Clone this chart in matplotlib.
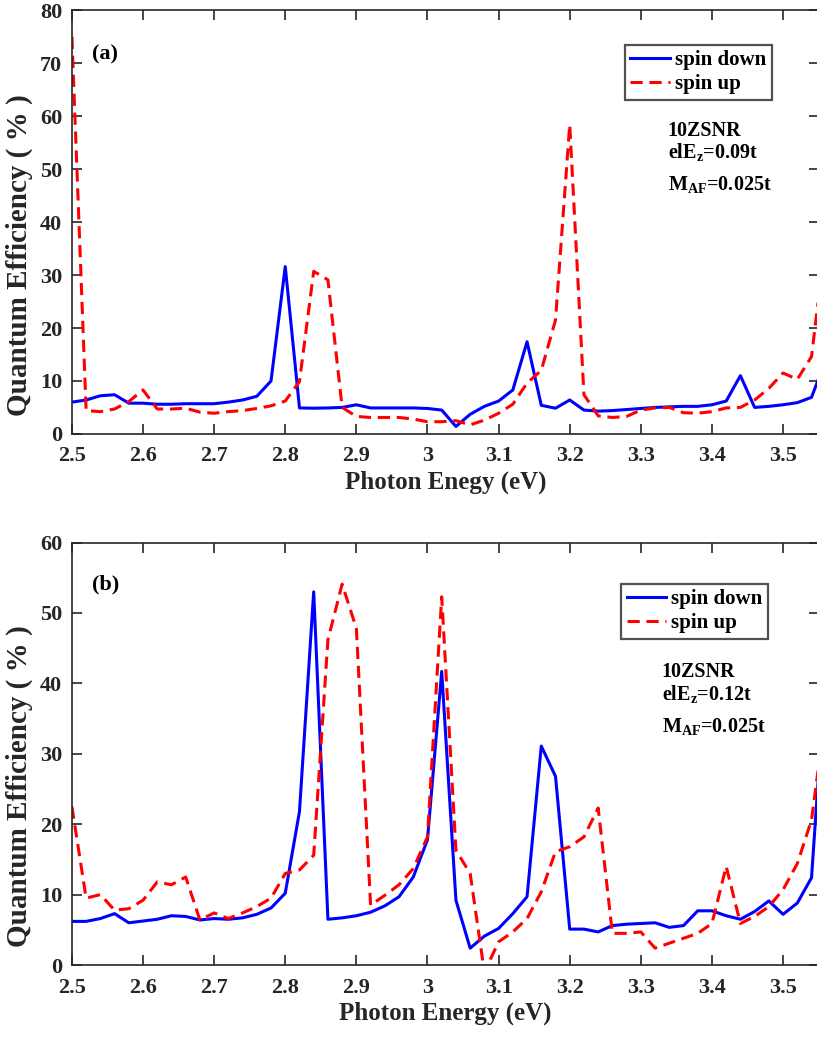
import numpy as np
import matplotlib
matplotlib.use("Agg")
import matplotlib.pyplot as plt

plt.rcParams["font.family"] = ["Liberation Serif", "DejaVu Serif"]
plt.rcParams["font.weight"] = "bold"
plt.rcParams["mathtext.fontset"] = "custom"
plt.rcParams["mathtext.rm"] = "Liberation Serif:bold"
plt.rcParams["mathtext.bf"] = "Liberation Serif:bold"
plt.rcParams["mathtext.it"] = "Liberation Serif:bold"

# energia del foton, paso de 0.02 eV
energia = np.round(np.arange(2.50, 3.561, 0.02), 2)

# panel (a): elEz = 0.09t
abajo_a = [6.0, 6.4, 7.2, 7.4, 5.8, 5.8, 5.6, 5.6, 5.7, 5.7,
           5.7, 6.0, 6.4, 7.1, 10.0, 31.6, 4.9, 4.85, 4.9, 5.0,
           5.5, 4.9, 4.9, 4.9, 4.9, 4.8, 4.5, 1.4, 3.7, 5.2,
           6.2, 8.3, 17.4, 5.4, 4.85, 6.4, 4.5, 4.3, 4.4, 4.6,
           4.8, 5.0, 5.1, 5.2, 5.2, 5.5, 6.2, 11.0, 5.0, 5.2,
           5.5, 5.9, 6.9, 14.0]
arriba_a = [75.0, 4.4, 4.2, 4.7, 6.1, 8.3, 4.7, 4.7, 4.85, 4.1,
            3.9, 4.2, 4.4, 4.8, 5.3, 6.2, 9.9, 30.7, 29.1, 5.0,
            3.3, 3.1, 3.1, 3.1, 2.8, 2.3, 2.3, 2.5, 1.7, 2.6,
            3.9, 5.6, 9.6, 12.0, 21.5, 58.4, 7.4, 3.4, 3.1, 3.3,
            4.5, 4.9, 5.0, 4.0, 3.9, 4.2, 4.9, 5.0, 6.4, 8.6,
            11.5, 10.3, 14.6, 37.0]

# panel (b): elEz = 0.12t
abajo_b = [6.2, 6.2, 6.6, 7.3, 6.0, 6.25, 6.5, 7.0, 6.9, 6.4,
           6.6, 6.5, 6.7, 7.2, 8.1, 10.2, 21.8, 53.0, 6.5, 6.7,
           7.0, 7.5, 8.4, 9.7, 12.5, 17.8, 41.7, 9.2, 2.4, 4.1,
           5.2, 7.3, 9.7, 31.1, 26.8, 5.1, 5.1, 4.7, 5.6, 5.8,
           5.9, 6.0, 5.35, 5.6, 7.7, 7.7, 7.0, 6.5, 7.6, 9.1,
           7.2, 8.8, 12.4, 42.0]
arriba_b = [22.5, 9.5, 10.0, 7.8, 8.0, 9.2, 11.8, 11.4, 12.5, 6.4,
            7.4, 6.6, 7.4, 8.3, 9.5, 13.0, 13.5, 15.6, 46.2, 54.1,
            47.8, 8.5, 9.9, 11.4, 13.7, 18.2, 52.3, 16.3, 13.0, -1.0,
            3.3, 4.7, 6.6, 10.4, 16.1, 16.8, 18.2, 22.3, 4.5, 4.5,
            4.7, 2.4, 3.1, 3.8, 4.5, 5.9, 14.0, 5.9, 6.9, 8.3,
            10.7, 14.4, 20.6, 36.0]

fig = plt.figure(figsize=(8.17, 10.38), dpi=100)
ax1 = fig.add_axes([0.088, 0.582, 0.914, 0.408])
ax2 = fig.add_axes([0.088, 0.0703, 0.914, 0.407])

# (ejes, abajo, arriba, ymax, letra, etiqueta x, campo, pos. texto, renglones, pos. leyenda)
paneles = [
    (ax1, abajo_a, arriba_a, 80, "(a)", "Photon Enegy (eV)", "0.09t",
     0.798, (0.703, 0.651, 0.576), (0.937, 0.918), 0.897, 0.4225),
    (ax2, abajo_b, arriba_b, 60, "(b)", "Photon Energy (eV)", "0.12t",
     0.790, (0.682, 0.627, 0.552), (0.932, 0.902), 0.900, 0.424),
]

for ax, abajo, arriba, ymax, letra, xlab, campo, tx, renglones, legpos, ly, yl in paneles:
    ax.plot(energia, abajo, color="blue", lw=2.2, label="spin down")
    ax.plot(energia, arriba, color="red", lw=2.2, ls=(0, (4, 2.2)), label="spin up")
    ax.set_xlim(2.5, 3.55)
    ax.set_ylim(0, ymax)
    ax.set_xticks([2.5, 2.6, 2.7, 2.8, 2.9, 3.0, 3.1, 3.2, 3.3, 3.4, 3.5])
    ax.set_xticklabels(["2.5", "2.6", "2.7", "2.8", "2.9", "3", "3.1", "3.2", "3.3", "3.4", "3.5"])
    ax.set_yticks(np.arange(0, ymax + 1, 10))
    ax.tick_params(direction="in", top=True, right=True, length=7, width=1.2,
                   labelsize=16, colors="#262626", pad=7)
    ax.tick_params(axis="x", pad=9)
    for lbl in ax.get_xticklabels() + ax.get_yticklabels():
        lbl.set_fontweight("bold")
    for s in ax.spines.values():
        s.set_color("#262626")
        s.set_linewidth(1.2)
    ax.set_xlabel(xlab, fontsize=18, fontweight="bold", color="#262626", labelpad=3)
    ax.set_ylabel("Quantum Efficiency ( % )", fontsize=21, fontweight="bold",
                  color="#262626")
    ax.yaxis.set_label_coords(-0.052, yl)
    ax.text(0.027, ly, letra, transform=ax.transAxes, fontsize=16,
            fontweight="bold", va="center")
    leg = ax.legend(loc="upper right", bbox_to_anchor=legpos, fontsize=15,
                    frameon=True, fancybox=False, edgecolor="#262626",
                    handlelength=1.9, handletextpad=0.25, borderpad=0.25,
                    labelspacing=0.2, borderaxespad=0)
    leg.get_frame().set_linewidth(1.6)
    textos = ["10ZSNR", "elE$_{z}$=" + campo, "M$_{AF}$=0.025t"]
    for t, y in zip(textos, renglones):
        ax.text(tx, y, t, transform=ax.transAxes, fontsize=14.5,
                fontweight="bold", va="baseline", ha="left")

fig.savefig("out.png", dpi=100)
